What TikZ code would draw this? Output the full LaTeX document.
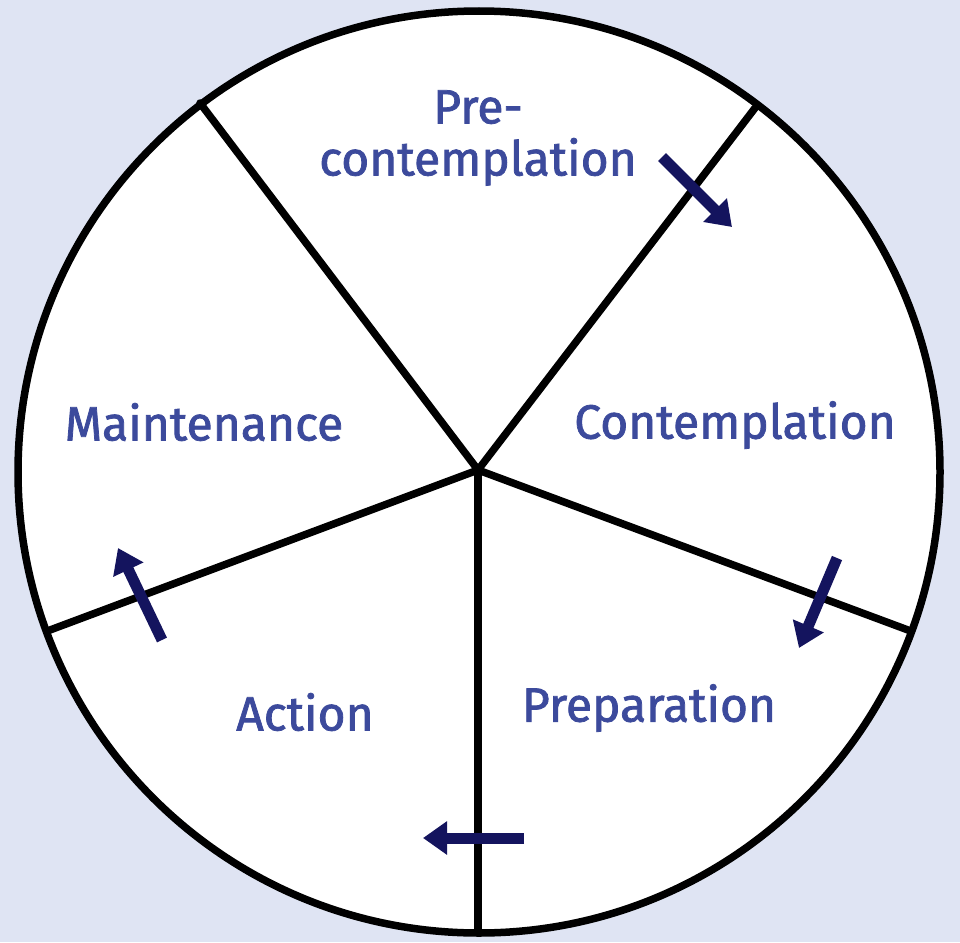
\documentclass[tikz,border=0pt]{standalone}
\usepackage{fontspec}
\setmainfont{Fira Sans}
\newfontfamily\stagefont{Fira Sans}[FakeBold=1.6]
\usetikzlibrary{arrows.meta}
\definecolor{bgblue}{HTML}{DFE4F3}
\definecolor{stagetext}{HTML}{3C4A9C}
\definecolor{arrownavy}{HTML}{14145E}
\begin{document}
\begin{tikzpicture}[x=1pt,y=-1pt,
		stage/.style={text=stagetext,font=\stagefont\fontsize{48}{52}\selectfont,align=center,inner sep=0pt},
		spoke/.style={line width=7.5pt,black},
		turn/.style={line width=11pt,arrownavy,-{Triangle[length=24pt,width=32pt]}}]
			\fill[bgblue] (0,0) rectangle (960,942);
			\useasboundingbox (0,0) rectangle (960,942);
			
			\coordinate (hub) at (478,470);
			\draw[spoke,fill=white] (479,472) circle (461);
			
			\coordinate (ul) at (200,103);
			\coordinate (ur) at (755,108);
			\coordinate (dr) at (908,630);
			\coordinate (dd) at (478,933);
			\coordinate (dl) at (50,630);
			\draw[spoke,line cap=round] (hub) -- (ul);
			\draw[spoke,line cap=round] (hub) -- (ur);
			\draw[spoke,line cap=round] (hub) -- (dr);
			\draw[spoke,line cap=round] (hub) -- (dd);
			\draw[spoke,line cap=round] (hub) -- (dl);
			
			\node[stage] (pre) at (478,138) {Pre-\\contemplation};
			\node[stage] (cont) at (735,425) {Contemplation};
			\node[stage] (prep) at (649,708) {Preparation};
			\node[stage] (act) at (305,712) {Action};
			\node[stage] (main) at (204,422) {Maintenance};
			
			% arrows across the spokes
			\coordinate (a1) at (662,157);
			\coordinate (b1) at (732,227);
			\coordinate (a2) at (837,558);
			\coordinate (b2) at (799,648);
			\coordinate (a3) at (524,838);
			\coordinate (b3) at (423,838);
			\coordinate (a4) at (162,640);
			\coordinate (b4) at (118,548);
			\draw[turn] (a1) -- (b1);
			\draw[turn] (a2) -- (b2);
			\draw[turn] (a3) -- (b3);
			\draw[turn] (a4) -- (b4);
			
		\end{tikzpicture}
\end{document}
